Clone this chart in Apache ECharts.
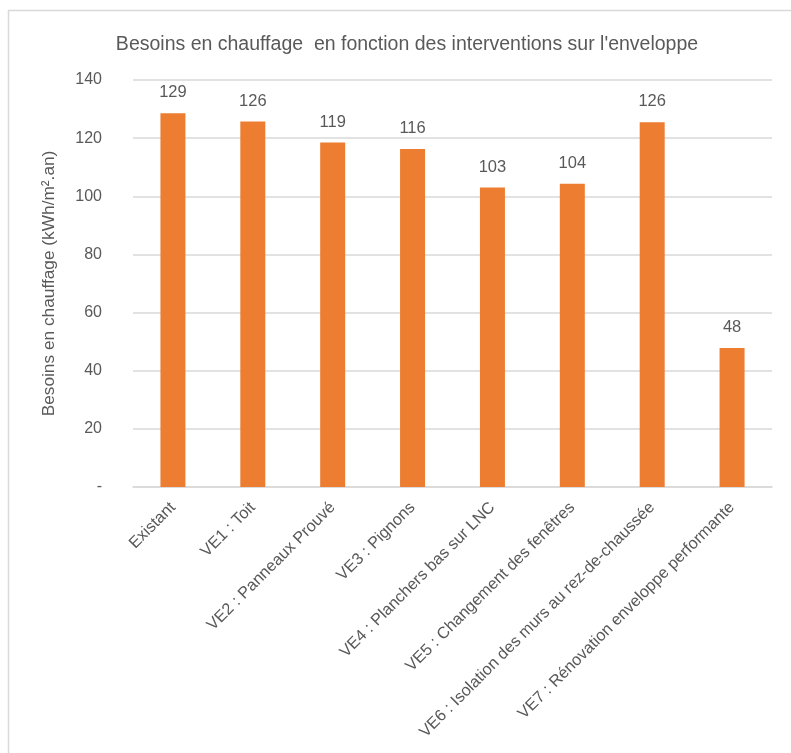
<!DOCTYPE html>
<html>
<head>
<meta charset="utf-8">
<script src="https://cdn.jsdelivr.net/npm/echarts@6/dist/echarts.min.js"></script>
<style>
html,body{margin:0;padding:0;background:#fff;}
#chart{width:791px;height:753px;}
</style>
</head>
<body>
<div id="chart"></div>
<script>
const categories = [
  "Existant",
  "VE1 : Toit",
  "VE2 : Panneaux Prouvé",
  "VE3 : Pignons",
  "VE4 : Planchers bas sur LNC",
  "VE5 : Changement des fenêtres",
  "VE6 : Isolation des murs au rez-de-chaussée",
  "VE7 : Rénovation enveloppe performante"
];
const values = [128.6, 125.7, 118.5, 116.3, 103.0, 104.3, 125.5, 47.8];
const yTicks = [0, 20, 40, 60, 80, 100, 120, 140];

const FONT = "'Liberation Sans Narrow', 'Liberation Sans', Arial, sans-serif";
const chart = echarts.init(document.getElementById('chart'), null, {renderer: 'canvas'});
chart.setOption({
  backgroundColor: '#ffffff',
  animation: false,
  title: {
    text: "Besoins en chauffage  en fonction des interventions sur l'enveloppe",
    left: 402, top: 30, textAlign: 'center',
    textStyle: {fontFamily: FONT, fontSize: 19.5, fontWeight: 'normal', color: '#595959'}
  },
  graphic: [{
    type: 'rect', left: 6, top: 8, silent: true,
    shape: {width: 820, height: 800},
    style: {fill: 'none', stroke: '#d9d9d9', lineWidth: 1.5}
  }],
  grid: {left: 133, right: 19, top: 80, bottom: 266, outerBoundsMode: 'none'},
  xAxis: {
    type: 'category',
    data: categories,
    axisTick: {show: false},
    axisLine: {lineStyle: {color: '#d9d9d9', width: 1.5}},
    axisLabel: {
      interval: 0, rotate: 45, margin: 18,
      fontFamily: FONT, fontSize: 16.3, color: '#595959'
    }
  },
  yAxis: {
    type: 'value',
    min: yTicks[0], max: yTicks[yTicks.length - 1], interval: 20,
    name: 'Besoins en chauffage (kWh/m².an)',
    nameLocation: 'middle', nameGap: 75, nameRotate: 90,
    nameTextStyle: {fontFamily: FONT, fontSize: 17.3, color: '#595959'},
    axisLine: {show: false},
    axisTick: {show: false},
    splitLine: {lineStyle: {color: '#d9d9d9', width: 1.5}},
    axisLabel: {
      margin: 31,
      fontFamily: FONT, fontSize: 16, color: '#595959',
      formatter: v => (v === 0 ? '-' : String(v))
    }
  },
  series: [{
    type: 'bar',
    data: values,
    barWidth: 25,
    itemStyle: {color: '#ED7D31'},
    label: {
      show: true, position: 'top', distance: 12,
      fontFamily: FONT, fontSize: 16.5, color: '#595959',
      formatter: p => String(Math.round(p.value))
    }
  }]
});
</script>
</body>
</html>
